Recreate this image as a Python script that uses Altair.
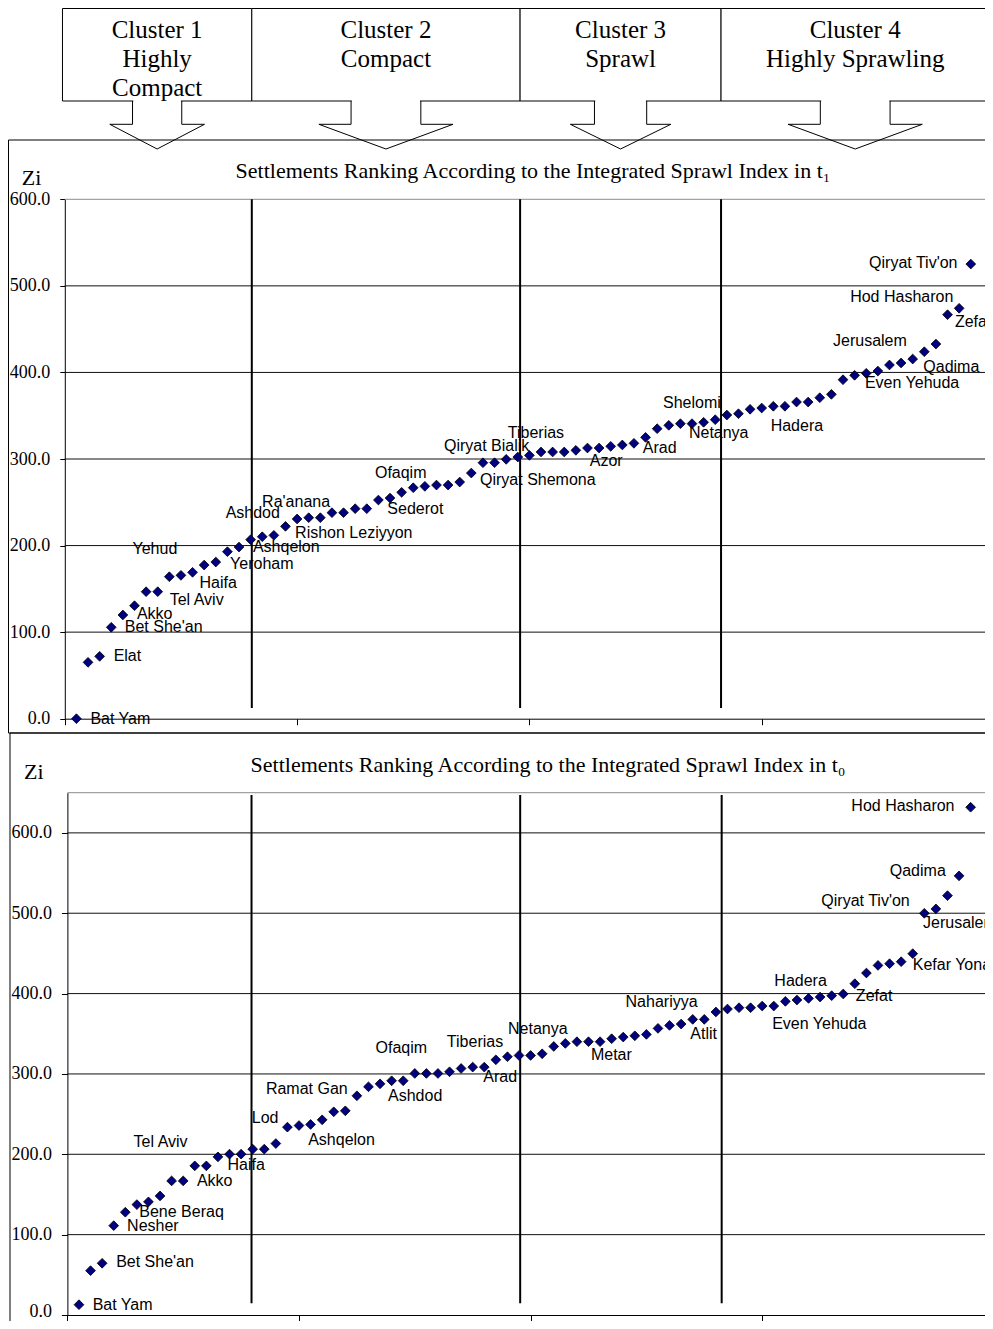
import altair as alt
import pandas as pd

# ---------------- data ----------------
t1_values = [0.0, 65.1, 72.0, 105.6, 119.8, 130.5, 146.7, 146.7, 164.0, 165.6,
             169.1, 177.5, 181.0, 192.9, 198.3, 206.8, 210.2, 211.8, 222.2, 230.7,
             232.2, 232.2, 238.0, 238.0, 242.6, 242.6, 252.6, 254.9, 261.5, 266.8,
             268.4, 269.9, 269.9, 273.4, 283.8, 295.7, 295.7, 299.6, 302.3, 304.2,
             308.1, 308.1, 308.1, 310.0, 312.7, 312.7, 314.6, 316.2, 318.1, 325.0,
             335.0, 338.9, 340.8, 340.8, 342.4, 345.4, 350.8, 352.3, 357.4, 358.9,
             360.9, 360.9, 365.8, 365.8, 370.8, 374.7, 391.6, 396.7, 399.0, 401.6,
             408.6, 410.9, 415.5, 423.9, 432.8, 466.7, 474.1, 525.2]
t0_values = [12.8, 55.2, 64.4, 111.2, 127.9, 137.4, 140.8, 148.2, 166.9, 166.9,
             185.6, 185.6, 196.8, 200.2, 200.2, 206.4, 206.4, 213.4, 233.8, 235.8,
             237.1, 242.9, 252.9, 254.1, 272.8, 284.0, 287.7, 291.5, 291.5, 300.6,
             300.6, 300.6, 302.7, 306.8, 308.5, 308.5, 317.6, 321.4, 323.0, 323.0,
             325.1, 334.2, 338.0, 340.1, 340.1, 340.1, 343.8, 345.9, 347.5, 349.2,
             356.7, 360.4, 362.1, 367.9, 367.9, 377.1, 380.8, 382.4, 382.4, 384.5,
             384.5, 390.3, 392.0, 394.0, 395.7, 397.4, 399.5, 412.3, 425.6, 435.1,
             437.2, 439.7, 449.7, 499.9, 505.4, 521.9, 546.5, 631.9]
ranks = list(range(1, 79))

t1_label_names = ["Bat Yam", "Elat", "Bet She'an", "Akko", "Tel Aviv", "Haifa", "Yehud",
                  "Yeroham", "Ashqelon", "Ashdod", "Ra'anana", "Rishon Leziyyon", "Sederot",
                  "Ofaqim", "Qiryat Shemona", "Qiryat Bialik", "Tiberias", "Azor", "Arad",
                  "Shelomi", "Netanya", "Hadera", "Even Yehuda", "Qadima", "Jerusalem",
                  "Zefat", "Hod Hasharon", "Qiryat Tiv'on"]
t1_label_ranks = [1, 3, 4, 5, 8, 12, 7, 14, 16, 16, 20, 19, 28, 29, 35, 36, 39, 45, 50,
                  54, 55, 62, 69, 73, 74, 76, 77, 78]

t0_label_names = ["Bat Yam", "Bet She'an", "Nesher", "Bene Beraq", "Akko", "Tel Aviv", "Haifa",
                  "Lod", "Ashqelon", "Ramat Gan", "Ashdod", "Ofaqim", "Tiberias", "Arad",
                  "Netanya", "Metar", "Nahariyya", "Atlit", "Even Yehuda", "Hadera", "Zefat",
                  "Kefar Yona", "Jerusalem", "Qiryat Tiv'on", "Qadima", "Hod Hasharon"]
t0_label_ranks = [1, 3, 4, 5, 10, 9, 14, 19, 21, 25, 28, 29, 37, 36, 39, 45, 52, 55, 61,
                  62, 67, 73, 74, 74, 77, 78]

y_ticks = [0, 100, 200, 300, 400, 500, 600]
x_ticks = [0, 20, 40, 60, 80]
t1_ymax = 600
t0_ymax = 650

cluster_texts = [["Cluster 1", "Highly", "Compact"],
                 ["Cluster 2", "Compact"],
                 ["Cluster 3", "Sprawl"],
                 ["Cluster 4", "Highly Sprawling"]]
cluster_bounds_t1 = [16.1, 39.2, 56.5]
cluster_bounds_t0 = [15.9, 39.1, 56.5]

title_t1 = "Settlements Ranking According to the Integrated Sprawl Index in t\u2081"
title_t0 = "Settlements Ranking According to the Integrated Sprawl Index in t\u2080"
y_title = "Zi"

# ---------------- layout / style ----------------
W, H = 977, 1313
SERIF = "Liberation Serif"
SANS = "Liberation Sans"
TOP_X_RANGE = [56.8, 986.0]
BOT_X_RANGE = [59.4, 985.8]
TOP_Y_RANGE = [710.7, 191.3]
BOT_Y_RANGE = [1307.0, 784.7]
TOP_LINE_SPAN = (12.4, 600)
BOT_LINE_SPAN = (14.6, 647)
LABEL_SIZE = 16

t1_label_offsets = [(14, 0), (14, 0), (13.5, 0), (14, -0.7), (12, 8), (-4.7, 17.7),
                    (-13.6, -42.4), (2.7, 12.6), (2.3, 7), (-25, -26.4), (-35, -16.7),
                    (9.6, 7), (-2.7, 10.7), (-26.7, -19.6), (8.7, 7), (-39, -17),
                    (-10, -23.7), (2.3, 12.7), (-2.7, 11), (-29, -21), (-14.7, 11),
                    (-14.3, 19.4), (-1.3, 10), (10.6, 7.7), (-91.3, -11), (7.4, 7),
                    (-109, -11), (-101.7, -1.3)]
t0_label_offsets = [(13.7, 0), (14, -1), (13.4, 0), (14, -0.6), (13.7, 0), (-38, -38.7),
                    (-2, 10.7), (-35.6, -9), (-2.4, 15.3), (-91, -6.7), (-3.6, 15),
                    (-27.7, -32.7), (-49, -17.3), (-1, 10), (-11, -26.7), (2.4, 13),
                    (-44, -23.4), (-14, 14.3), (-1.6, 18), (-11, -20.7), (12.6, 2.4),
                    (0, 11), (-1.3, 9.6), (-103, -12), (-69.3, -4.6), (-119.3, -1)]


def make_panel(values, names, lranks, offsets, bounds, x_range, y_range, y_max,
               x_tick_size, y_tick_size, line_span, zero_label_shift):
    sx = alt.Scale(domain=[0, 80], range=x_range, nice=False, zero=False)
    sy = alt.Scale(domain=[0, y_max], range=y_range, nice=False, zero=False)
    ax_x = alt.Axis(orient="bottom", offset=y_range[0] - H, values=x_ticks, labels=False,
                    ticks=True, tickSize=x_tick_size, tickColor="black", domainColor="black",
                    tickWidth=1, domainWidth=1, grid=False, title=None)
    ax_y = alt.Axis(orient="left", offset=-x_range[0], values=y_ticks, format=".1f",
                    labelFont=SERIF, labelFontSize=18, labelColor="black", labelPadding=10,
                    labelOffset={"condition": {"test": "datum.value === 0",
                                               "value": zero_label_shift}, "value": 0},
                    tickSize=y_tick_size, tickColor="black", domainColor="black",
                    tickWidth=1, domainWidth=1, grid=False, title=None)
    X = alt.X("x:Q", scale=sx, axis=ax_x)
    Y = alt.Y("y:Q", scale=sy, axis=ax_y)

    pts = pd.DataFrame({"x": ranks, "y": values})
    grid = pd.DataFrame({"x": 0, "x2": 80, "y": [t for t in y_ticks if 0 < t < y_max]})
    border = pd.DataFrame({"x": [0], "x2": [80], "y": [y_max]})
    lines = pd.DataFrame({"x": bounds, "y": line_span[0], "y2": line_span[1]})
    labels = pd.DataFrame({"k": list(range(len(names))), "name": names, "x": lranks,
                           "y": [values[r - 1] for r in lranks]})

    layers = [
        alt.Chart(grid).mark_rule(color="#111111", strokeWidth=1).encode(x=X, x2="x2:Q", y=Y),
        alt.Chart(border).mark_rule(color="#8c8c8c", strokeWidth=1).encode(x=X, x2="x2:Q", y=Y),
        alt.Chart(lines).mark_rule(color="black", strokeWidth=2).encode(x=X, y=Y, y2="y2:Q"),
        alt.Chart(pts).mark_point(shape="diamond", filled=True, size=95, fill="#000080",
                                  stroke="black", strokeWidth=0.8, opacity=1).encode(x=X, y=Y),
    ]
    for k, (dx, dy) in enumerate(offsets):
        layers.append(
            alt.Chart(labels).transform_filter(alt.datum.k == k)
            .mark_text(align="left", baseline="middle", dx=dx, dy=dy, font=SANS,
                       fontSize=LABEL_SIZE, color="black")
            .encode(x=X, y=Y, text="name:N")
        )
    return alt.layer(*layers)


top = make_panel(t1_values, t1_label_names, t1_label_ranks, t1_label_offsets,
                 cluster_bounds_t1, TOP_X_RANGE, TOP_Y_RANGE, t1_ymax, 6, 5, TOP_LINE_SPAN, 0)
bottom = make_panel(t0_values, t0_label_names, t0_label_ranks, t0_label_offsets,
                    cluster_bounds_t0, BOT_X_RANGE, BOT_Y_RANGE, t0_ymax, 6, 6, BOT_LINE_SPAN, -4)

# ---------------- header (cluster boxes and arrows) ----------------
edges = [-0.2] + cluster_bounds_t1 + [79.6]
BOX_TOP, BOX_BOT, WING_Y, TIP_Y = 0.5, 93.0, 116.3, 141.0
TEXT_Y = [22, 51, 80]

box_rows, arrow_rows, cover_rows, text_rows = [], [], [], []
for i in range(4):
    l, r = edges[i], edges[i + 1]
    c, w = (l + r) / 2, r - l
    s, g = 0.13 * w, 0.25 * w
    box_rows.append({"x": l, "x2": (r if i < 3 else 82), "y": BOX_TOP, "y2": BOX_BOT})
    pts_arrow = [(c - s, BOX_BOT), (c - s, WING_Y), (c - g, WING_Y), (c, TIP_Y),
                 (c + g, WING_Y), (c + s, WING_Y), (c + s, BOX_BOT)]
    for o, (ax, ay) in enumerate(pts_arrow):
        arrow_rows.append({"id": i, "o": o, "x": ax, "y": ay})
    cover_rows.append({"x": c - s + 0.07, "x2": c + s - 0.07, "y": BOX_BOT})
    for j, t in enumerate(cluster_texts[i]):
        text_rows.append({"x": c, "y": TEXT_Y[j], "t": t})

hx = alt.Scale(domain=[0, 80], range=TOP_X_RANGE, nice=False, zero=False)
hy = alt.Scale(domain=[0, H], range=[0, H], nice=False, zero=False)
HX = alt.X("x:Q", scale=hx, axis=None)
HY = alt.Y("y:Q", scale=hy, axis=None)

header = alt.layer(
    alt.Chart(pd.DataFrame(box_rows)).mark_rect(fill="white", stroke="black", strokeWidth=1)
    .encode(x=HX, x2="x2:Q", y=HY, y2="y2:Q"),
    alt.Chart(pd.DataFrame(arrow_rows)).mark_line(color="black", strokeWidth=1)
    .encode(x=HX, y=HY, detail="id:N", order="o:Q"),
    alt.Chart(pd.DataFrame(cover_rows)).mark_rule(color="white", strokeWidth=2)
    .encode(x=HX, x2="x2:Q", y=HY),
    alt.Chart(pd.DataFrame(text_rows)).mark_text(font=SERIF, fontSize=25, align="center",
                                                 baseline="middle", color="black")
    .encode(x=HX, y=HY, text="t:N"),
)

# ---------------- frames and titles (pixel space) ----------------
px = alt.Scale(domain=[0, W], range=[0, W], nice=False, zero=False)
py = alt.Scale(domain=[0, H], range=[0, H], nice=False, zero=False)
PX = alt.X("x:Q", scale=px, axis=None)
PY = alt.Y("y:Q", scale=py, axis=None)

frames = pd.DataFrame({"x": [0.5, 2.0], "x2": [1000, 1000], "y": [132.0, 725.0], "y2": [725.0, 1400.0]})
titles = pd.DataFrame({"x": [525.0, 540.0], "y": [163.0, 757.0], "t": [title_t1, title_t0]})
ytitles = pd.DataFrame({"x": [13.7, 16.0], "y": [170.0, 763.7], "t": [y_title, y_title]})

frame_layer = alt.layer(
    alt.Chart(frames).mark_rect(fillOpacity=0, stroke="black", strokeWidth=1)
    .encode(x=PX, x2="x2:Q", y=PY, y2="y2:Q"),
    alt.Chart(titles).mark_text(font=SERIF, fontSize=22, align="center", baseline="middle",
                                color="black").encode(x=PX, y=PY, text="t:N"),
    alt.Chart(ytitles).mark_text(font=SERIF, fontSize=22, align="left", baseline="middle",
                                 color="black").encode(x=PX, y=PY, text="t:N"),
)

chart = (
    alt.layer(frame_layer, header, top, bottom)
    .resolve_scale(x="independent", y="independent")
    .properties(width=W, height=H, autosize=alt.AutoSizeParams(type="none"), padding=0)
    .configure_view(stroke=None)
)

chart.save("out.html", embed_options={"renderer": "svg", "actions": False})
